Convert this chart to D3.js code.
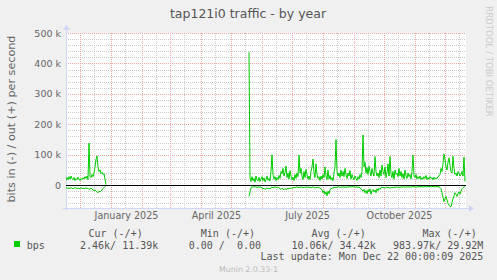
<!DOCTYPE html>
<html>
<head>
<meta charset="utf-8">
<script src="https://cdn.jsdelivr.net/npm/d3@7"></script>
<style>
  body { margin: 0; background: #F0F0F0; }
  svg { display: block; }
  text { font-family: "DejaVu Sans", sans-serif; }
  .mono { font-family: "DejaVu Sans Mono", monospace; white-space: pre; }
</style>
</head>
<body>
<svg id="chart"></svg>
<script>

// period shown (munin "year" = 400 days)
var periodStart = new Date(Date.UTC(2024, 10, 17))
var periodEnd = new Date(Date.UTC(2025, 11, 22))

// first stretch of data, one value a day, in k bits/s
var seg1Start = new Date(Date.UTC(2024, 10, 17))
var out1 = [15, 25, 18, 28, 20, 30, 22, 18, 25, 15, 22, 18, 26, 20, 15, 22, 18, 24, 20, 28,
            22, 30, 18, 138, 30, 25, 35, 28, 40, 60, 85, 96, 60, 45, 50, 38, 42, 35, 38, 20, 2]
var in1 = [-10, -8, -12, -9, -11, -8, -10, -12, -9, -8, -10, -11, -9, -12, -10, -8, -11, -9, -12, -10,
           -9, -11, -10, -14, -12, -10, -13, -15, -18, -16, -20, -22, -25, -20, -22, -18, -15, -12, -8, -4, -1]

// second stretch, after the gap
var seg2Start = new Date(Date.UTC(2025, 4, 19))
var out2 = [437, 25, 12, 28, 15, 22, 10, 30, 18, 14,
            26, 12, 20, 28, 15, 24, 11, 19, 30, 16,
            22, 14, 45, 100, 35, 20, 28, 15, 25, 18,
            32, 22, 45, 38, 55, 30, 42, 63, 25, 40,
            20, 48, 30, 18, 26, 15, 35, 22, 40, 28,
            99, 40, 55, 30, 18, 45, 25, 52, 35, 20,
            30, 18, 45, 60, 86, 40, 25, 70, 35, 22,
            28, 15, 30, 20, 35, 25, 60, 30, 18, 50,
            20, 32, 18, 25, 15, 40, 60, 150, 45, 30,
            40, 25, 50, 30, 45, 28, 55, 35, 22, 40,
            30, 48, 20, 35, 25, 18, 30, 22, 15, 28,
            20, 35, 25, 45, 165, 60, 75, 40, 58, 35,
            62, 45, 30, 55, 40, 30, 94, 45, 30, 40,
            25, 50, 30, 66, 45, 35, 60, 25, 40, 70,
            30, 94, 35, 25, 45, 20, 50, 35, 40, 28,
            55, 30, 45, 25, 38, 20, 50, 30, 22, 40,
            28, 35, 20, 45, 99, 30, 25, 35, 20, 28,
            22, 30, 18, 25, 20, 28, 22, 32, 18, 25,
            20, 28, 22, 25, 18, 26, 20, 24, 22, 28,
            30, 35, 55, 45, 70, 102, 85, 60, 50, 75,
            90, 65, 45, 40, 95, 55, 35, 40, 30, 45,
            40, 30, 35, 45, 30, 92, 12]
var in2 = [-37, -22, -8, -5, -7, -4, -6, -5, -8, -6,
           -5, -7, -6, -9, -12, -10, -14, -11, -9, -12,
           -10, -13, -8, -6, -9, -7, -5, -8, -6, -7,
           -9, -12, -14, -10, -13, -15, -11, -14, -12, -10,
           -13, -9, -11, -8, -10, -6, -9, -7, -5, -8,
           -6, -8, -5, -7, -9, -6, -8, -5, -7, -6,
           -8, -6, -9, -7, -5, -8, -10, -7, -9, -6,
           -8, -10, -12, -15, -25, -18, -30, -22, -35, -20,
           -28, -15, -12, -10, -8, -9, -6, -8, -7, -5,
           -6, -8, -5, -7, -6, -5, -8, -6, -7, -5,
           -6, -5, -7, -4, -6, -5, -7, -6, -5, -8,
           -6, -9, -12, -15, -20, -14, -25, -18, -28, -15,
           -22, -12, -30, -18, -14, -22, -16, -25, -12, -18,
           -10, -14, -8, -6, -9, -7, -10, -8, -6, -9,
           -7, -10, -8, -6, -9, -7, -6, -8, -5, -7,
           -6, -8, -5, -7, -6, -5, -7, -6, -5, -6,
           -5, -7, -6, -5, -4, -6, -5, -7, -6, -5,
           -5, -6, -4, -5, -6, -5, -4, -6, -5, -4,
           -5, -4, -6, -5, -4, -5, -6, -4, -5, -6,
           -5, -8, -12, -25, -40, -54, -45, -37, -48, -60,
           -65, -70, -71, -58, -45, -35, -25, -30, -37, -28,
           -22, -30, -20, -12, -8, -6, -5]

var yTicks = [0, 100, 200, 300, 400, 500]
var yTickLabels = ["0", "100 k", "200 k", "300 k", "400 k", "500 k"]
var monthLabels = ["January 2025", "April 2025", "July 2025", "October 2025"]

var legendHeads = ["Cur (-/+)", "Min (-/+)", "Avg (-/+)", "Max (-/+)"]
var legendValues = ["2.46k/ 11.39k", "0.00 /  0.00", "10.06k/ 34.42k", "983.97k/ 29.92M"]

var dimensions = {
    width: 497,
    height: 280,
    margin: {
        top: 33,
        left: 66
    },
    plotWidth: 400,
    plotHeight: 175
}

var svg = d3.select("#chart")
    .attr("width", dimensions.width)
    .attr("height", dimensions.height)

svg.append("rect")
    .attr("width", dimensions.width)
    .attr("height", dimensions.height)
    .attr("fill", "#F0F0F0")

var x0 = dimensions.margin.left
var x1 = dimensions.margin.left + dimensions.plotWidth
var y0 = dimensions.margin.top
var y1 = dimensions.margin.top + dimensions.plotHeight

var xScale = d3.scaleUtc()
    .domain([periodStart, periodEnd])
    .range([x0, x1])

var yScale = d3.scaleLinear()
    .domain([-75, 500])
    .range([y1, y0])

// canvas
svg.append("rect")
    .attr("x", x0).attr("y", y0)
    .attr("width", dimensions.plotWidth)
    .attr("height", dimensions.plotHeight)
    .attr("fill", "#ffffff")

// grid
var minorY = d3.range(-60, 500, 20).filter(d => d % 100 != 0)
var months = d3.utcMonth.range(d3.utcMonth.ceil(periodStart), periodEnd)
var midMonths = d3.utcMonth.range(d3.utcMonth.floor(periodStart), periodEnd)
    .map(d => d3.utcDay.offset(d, 14))
    .filter(d => d > periodStart && d < periodEnd)

var grid = svg.append("g").attr("stroke-dasharray", "1,1").attr("stroke-width", 1)

grid.selectAll(".hminor").data(minorY).enter().append("line")
    .attr("x1", x0).attr("x2", x1)
    .attr("y1", d => Math.round(yScale(d)) + 0.5)
    .attr("y2", d => Math.round(yScale(d)) + 0.5)
    .attr("stroke", "#cccccc")

grid.selectAll(".vminor").data(midMonths).enter().append("line")
    .attr("x1", d => Math.round(xScale(d)) + 0.5)
    .attr("x2", d => Math.round(xScale(d)) + 0.5)
    .attr("y1", y0).attr("y2", y1)
    .attr("stroke", "#cccccc")

grid.selectAll(".hmajor").data(yTicks).enter().append("line")
    .attr("x1", x0).attr("x2", x1)
    .attr("y1", d => Math.round(yScale(d)) + 0.5)
    .attr("y2", d => Math.round(yScale(d)) + 0.5)
    .attr("stroke", "#efa8a8")

grid.selectAll(".vmajor").data(months).enter().append("line")
    .attr("x1", d => Math.round(xScale(d)) + 0.5)
    .attr("x2", d => Math.round(xScale(d)) + 0.5)
    .attr("y1", y0).attr("y2", y1)
    .attr("stroke", "#efa8a8")

// axes (light blue with arrows)
var axisColor = "#CFD6F8"
svg.append("line")
    .attr("x1", x0 - 3).attr("x2", x1 + 4)
    .attr("y1", y1 + 0.5).attr("y2", y1 + 0.5)
    .attr("stroke", axisColor)
svg.append("path")
    .attr("d", "M" + (x1 + 3) + "," + (y1 - 3) + "L" + (x1 + 8) + "," + (y1 + 0.5) + "L" + (x1 + 3) + "," + (y1 + 4) + "Z")
    .attr("fill", axisColor)
svg.append("line")
    .attr("x1", x0 + 0.5).attr("x2", x0 + 0.5)
    .attr("y1", y1 + 3).attr("y2", y0 - 4)
    .attr("stroke", axisColor)
svg.append("path")
    .attr("d", "M" + (x0 - 3) + "," + (y0 - 3) + "L" + (x0 + 0.5) + "," + (y0 - 8) + "L" + (x0 + 4) + "," + (y0 - 3) + "Z")
    .attr("fill", axisColor)

// y tick labels
var yAxis = svg.append("g")
    .attr("transform", "translate(" + (x0 - 5) + ",0)")
    .call(d3.axisLeft(yScale).tickValues(yTicks).tickSize(0).tickPadding(0)
        .tickFormat((d, i) => yTickLabels[i]))
yAxis.select(".domain").remove()
yAxis.selectAll("text")
    .attr("fill", "#666")
    .style("font-family", "DejaVu Sans")
    .style("font-size", "9.5px")

// x labels, mid-month
var labelDates = monthLabels.map(function (m) {
    var d = d3.utcParse("%B %Y")(m)
    return d3.utcDay.offset(d, 15)
})
var xAxis = svg.append("g")
    .attr("transform", "translate(0," + (y1 + 4) + ")")
    .call(d3.axisBottom(xScale).tickValues(labelDates).tickSize(0).tickPadding(0)
        .tickFormat((d, i) => monthLabels[i]))
xAxis.select(".domain").remove()
xAxis.selectAll("text")
    .attr("fill", "#666")
    .style("font-family", "DejaVu Sans")
    .style("font-size", "9.6px")

// data lines
function toPoints(start, values) {
    return values.map((v, i) => ({ date: d3.utcDay.offset(start, i), value: v }))
}
var series = [
    toPoints(seg1Start, out1),
    toPoints(seg1Start, in1),
    toPoints(seg2Start, out2),
    toPoints(seg2Start, in2)
]

var line = d3.line()
    .x(d => xScale(d.date))
    .y(d => yScale(d.value))

svg.append("clipPath").attr("id", "plotclip")
    .append("rect").attr("x", x0).attr("y", y0)
    .attr("width", dimensions.plotWidth).attr("height", dimensions.plotHeight)

svg.append("g").attr("clip-path", "url(#plotclip)")
    .selectAll("path").data(series).enter().append("path")
    .attr("d", line)
    .attr("fill", "none")
    .attr("stroke", "#00CC00")
    .attr("stroke-width", 1)

// zero rule
svg.append("line")
    .attr("x1", x0).attr("x2", x1)
    .attr("y1", Math.round(yScale(0)) + 0.5).attr("y2", Math.round(yScale(0)) + 0.5)
    .attr("stroke", "#000")

// title and axis title
svg.append("text")
    .attr("x", 248).attr("y", 17.5)
    .attr("text-anchor", "middle")
    .attr("fill", "#555")
    .style("font-size", "12.5px")
    .text("tap121i0 traffic - by year")

svg.append("text")
    .attr("transform", "translate(15,119) rotate(-90)")
    .attr("text-anchor", "middle")
    .attr("fill", "#666")
    .style("font-size", "11.2px")
    .text("bits in (-) / out (+) per second")

svg.append("text")
    .attr("transform", "translate(485.5,61.5) rotate(90)")
    .attr("text-anchor", "middle")
    .attr("fill", "#cccccc")
    .style("font-size", "8.6px")
    .text("RRDTOOL / TOBI OETIKER")

// legend
svg.append("rect")
    .attr("x", 14).attr("y", 241)
    .attr("width", 6).attr("height", 6)
    .attr("fill", "#00CC00")

svg.append("text").attr("class", "mono")
    .attr("x", 26.7).attr("y", 248.5)
    .attr("fill", "#555").style("font-size", "10px")
    .text("bps")

var headEnds = [142.7, 255, 365.7, 476.7]
var valueEnds = [158.3, 261, 375.7, 483.3]

svg.selectAll(".head").data(legendHeads).enter().append("text")
    .attr("class", "mono")
    .attr("x", (d, i) => headEnds[i]).attr("y", 237)
    .attr("text-anchor", "end")
    .attr("fill", "#555").style("font-size", "10px")
    .text(d => d)

svg.selectAll(".val").data(legendValues).enter().append("text")
    .attr("class", "mono")
    .attr("x", (d, i) => valueEnds[i]).attr("y", 248.5)
    .attr("text-anchor", "end")
    .attr("fill", "#555").style("font-size", "10px")
    .text(d => d)

svg.append("text").attr("class", "mono")
    .attr("x", 483.3).attr("y", 260.3)
    .attr("text-anchor", "end")
    .attr("fill", "#555").style("font-size", "10px")
    .text("Last update: Mon Dec 22 00:00:09 2025")

svg.append("text")
    .attr("x", 248.5).attr("y", 271.7)
    .attr("text-anchor", "middle")
    .attr("fill", "#bbbbbb")
    .style("font-size", "7.8px")
    .text("Munin 2.0.33-1")

</script>
</body>
</html>
